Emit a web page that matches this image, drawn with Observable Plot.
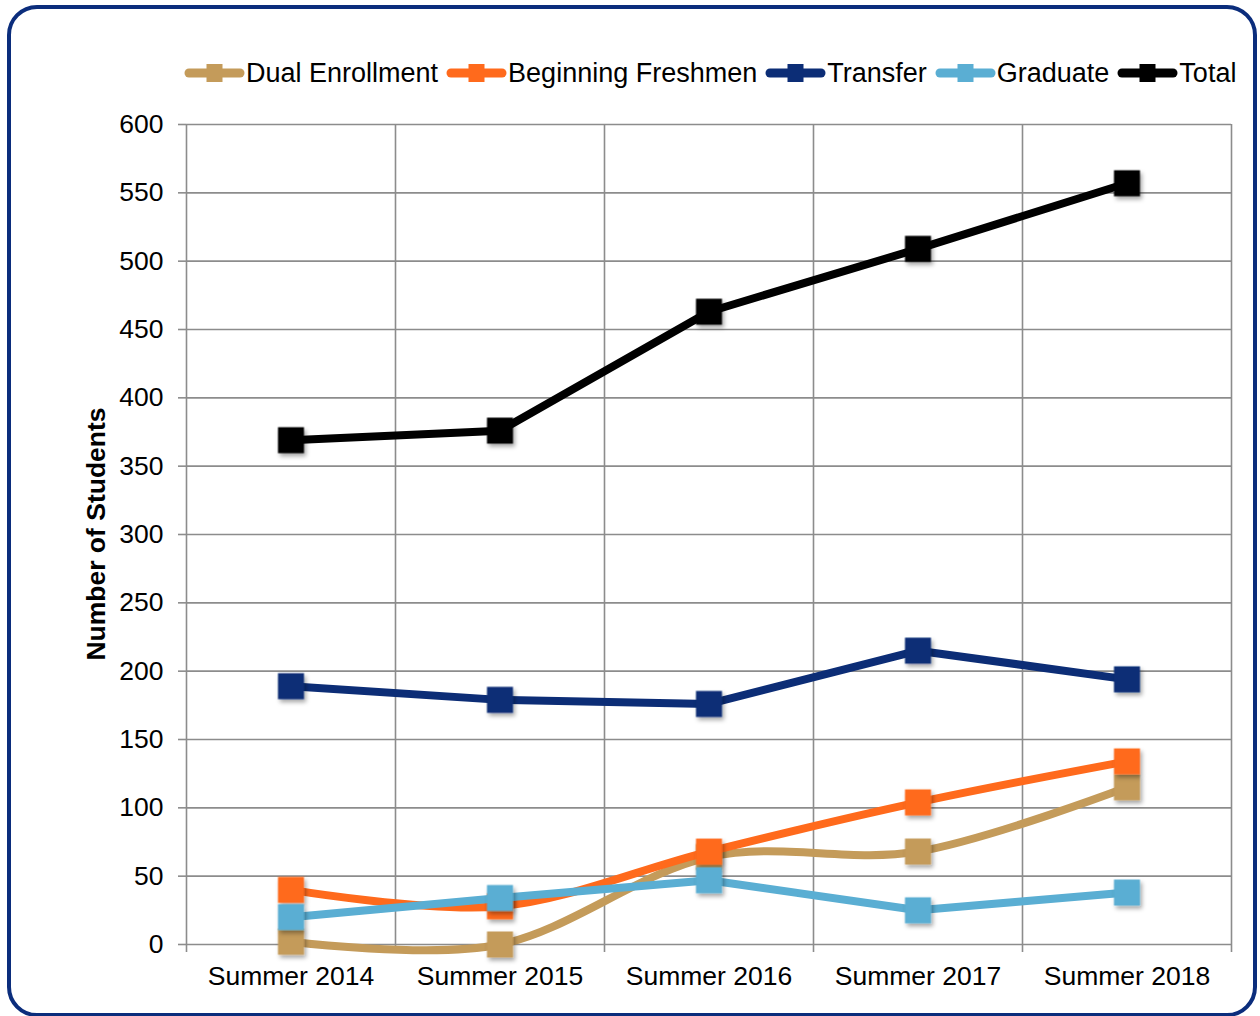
<!DOCTYPE html>
<html><head><meta charset="utf-8">
<script src="https://cdn.jsdelivr.net/npm/d3@7"></script>
<script src="https://cdn.jsdelivr.net/npm/@observablehq/plot@0.6"></script>
<style>
html,body{margin:0;padding:0;background:#fff;}
#wrap{position:relative;width:1260px;height:1016px;overflow:hidden;font-family:"Liberation Sans",Arial,sans-serif;background:#fff;}
#frame{position:absolute;left:7px;top:5px;width:1250px;height:1012px;border:4px solid #0b2d7c;border-radius:30px;box-sizing:border-box;pointer-events:none;}
#legend{position:absolute;left:184px;top:58px;display:flex;align-items:center;font-size:27px;line-height:30px;color:#000;white-space:nowrap;}
.item{display:flex;align-items:center;margin-right:8px;}
.item svg{display:block;margin-right:1px;}
#ytitle{position:absolute;left:96px;top:534px;transform:translate(-50%,-50%) rotate(-90deg);font-weight:bold;font-size:26.5px;white-space:nowrap;color:#000;}
#chart{position:absolute;left:0;top:0;}
</style>
</head>
<body>
<div id="wrap">
  <div id="chart"></div>
  <div id="legend"></div>
  <div id="ytitle">Number of Students</div>
  <div id="frame"></div>
</div>
<script>
const categories = ["Summer 2014", "Summer 2015", "Summer 2016", "Summer 2017", "Summer 2018"];
const seriesNames = ["Dual Enrollment", "Beginning Freshmen", "Transfer", "Graduate", "Total"];
const dualEnrollment = [2, 0, 64, 68, 115];
const beginningFreshmen = [40, 28, 68, 104, 134];
const transfer = [189, 179, 176, 215, 194];
const graduate = [20, 34, 47, 25, 38];
const total = [369, 376, 463, 509, 557];
const seriesColors = ["#c49b5a", "#ff6a1c", "#0c2d76", "#5aaed3", "#000000"];
const seriesSmooth = [true, true, false, false, false];
const yTicks = [0, 50, 100, 150, 200, 250, 300, 350, 400, 450, 500, 550, 600];

const seriesValues = [dualEnrollment, beginningFreshmen, transfer, graduate, total];
const rowsBySeries = seriesNames.map((name, s) =>
  categories.map((c, i) => ({series: name, i, category: c, value: seriesValues[s][i]})));
const centers = categories.map((c, i) => i);
const boundaries = categories.map((c, i) => i - 0.5).concat([categories.length - 0.5]);

const gridColor = "#8c8c8c";
const marks = [
  Plot.ruleY(yTicks, {y: d => d, stroke: gridColor, strokeWidth: 1.6}),
  Plot.ruleX(boundaries, {x: d => d, stroke: gridColor, strokeWidth: 1.6}),
  Plot.axisY(yTicks, {tickSize: 8, tickPadding: 15, fontSize: 26.5, stroke: gridColor, strokeWidth: 1.6, fill: "#000", label: null, tickFormat: d => String(d)}),
  Plot.axisX(boundaries, {tickSize: 8, stroke: gridColor, strokeWidth: 1.6, tickFormat: () => "", label: null}),
  Plot.axisX(centers, {tickSize: 0, tickPadding: 22, fontSize: 26.5, fill: "#000", tickFormat: i => categories[i], label: null})
];
rowsBySeries.forEach((rows, s) => {
  marks.push(Plot.line(rows, {x: "i", y: "value", stroke: seriesColors[s], strokeWidth: 8,
    curve: seriesSmooth[s] ? "cardinal" : "linear", strokeLinejoin: "round", strokeLinecap: "butt"}));
  marks.push(Plot.dot(rows, {x: "i", y: "value", symbol: "square", r: 14.67, fill: seriesColors[s], stroke: "none"}));
});

const plot = Plot.plot({
  width: 1260,
  height: 1016,
  marginTop: 124,
  marginBottom: 72,
  marginLeft: 186,
  marginRight: 29,
  style: {fontFamily: "Liberation Sans, Arial, sans-serif", fontSize: "26px", background: "transparent", color: "#000"},
  x: {type: "linear", domain: [-0.5, categories.length - 0.5], axis: null},
  y: {type: "linear", domain: [0, 600], axis: null},
  marks
});
document.getElementById("chart").appendChild(plot);

// drop shadow on markers
const svg = d3.select(plot);
const defs = svg.insert("defs", ":first-child");
defs.append("filter").attr("id", "mshadow").attr("x", "-50%").attr("y", "-50%").attr("width", "200%").attr("height", "200%")
  .append("feDropShadow").attr("dx", 2).attr("dy", 3).attr("stdDeviation", 2)
  .attr("flood-color", "#000").attr("flood-opacity", 0.35);
svg.selectAll('g[aria-label="dot"]').attr("filter", "url(#mshadow)");

// legend
const legend = d3.select("#legend");
seriesNames.forEach((name, s) => {
  const item = legend.append("div").attr("class", "item");
  const sw = item.append("svg").attr("width", 61).attr("height", 24);
  sw.append("line").attr("x1", 5).attr("x2", 56).attr("y1", 12).attr("y2", 12)
    .attr("stroke", seriesColors[s]).attr("stroke-width", 9).attr("stroke-linecap", "round");
  sw.append("rect").attr("x", 22.5).attr("y", 3).attr("width", 16).attr("height", 18).attr("fill", seriesColors[s]);
  item.append("span").text(name);
});
</script>
</body></html>
